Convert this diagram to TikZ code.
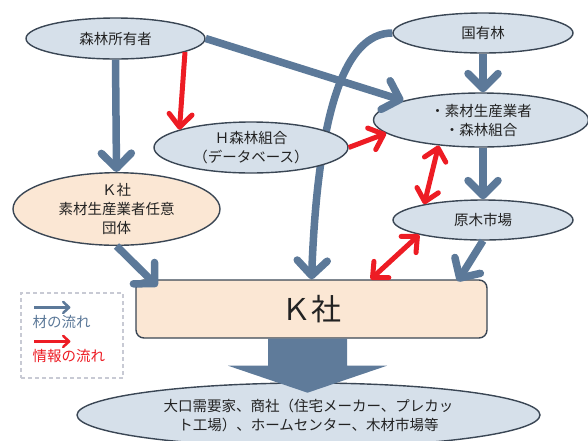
\documentclass[tikz,border=0pt]{standalone}
\usepackage{fontspec}
\setmainfont{Noto Sans CJK JP}
\usetikzlibrary{arrows.meta,calc,backgrounds,shapes.geometric}
\definecolor{flowblue}{RGB}{92,121,153}
\definecolor{bigblue}{RGB}{95,123,154}
\definecolor{flowred}{RGB}{237,28,36}
\definecolor{ellfill}{RGB}{214,224,234}
\definecolor{ellline}{RGB}{58,70,84}
\definecolor{orangefill}{RGB}{251,231,212}
\definecolor{txt}{RGB}{34,34,34}
\definecolor{leggray}{RGB}{200,202,212}
\tikzset{
  ell/.style={ellipse, draw=ellline, line width=1.4pt, fill=ellfill, inner sep=0pt,
    align=center, text=txt, font=\fontsize{14.5}{19}\selectfont},
  bluearrow/.style={draw=flowblue, line width=7.5pt,
    -{Straight Barb[length=15pt,width=30pt,round]}},
  redarrow/.style={draw=flowred, line width=5pt,
    -{Straight Barb[length=13pt,width=23pt,round]}},
  redboth/.style={draw=flowred, line width=5pt,
    {Straight Barb[length=12pt,width=22pt,round]}-{Straight Barb[length=12pt,width=22pt,round]}},
  legarrow/.style={line width=2.5pt, -{Straight Barb[length=6pt,width=11pt,round]}},
  legtext/.style={anchor=west, inner sep=0pt, font=\fontsize{14.5}{17}\selectfont},
}
\begin{document}
\begin{tikzpicture}[x=1pt,y=-1pt]
\useasboundingbox (0,0) rectangle (588,440);
\clip (0,0) rectangle (588,440);

% nodes
\node[ell, minimum width=179pt, minimum height=41pt] (own) at (115.5,38.5) {森林所有者};
\node[ell, minimum width=180pt, minimum height=40pt] (koku) at (483,33) {国有林};
\node[ell, minimum width=215pt, minimum height=54pt] (suzai) at (481,120) {・素材生産業者\\・森林組合};
\node[ell, minimum width=194pt, minimum height=51pt] (hnode) at (251,147.5) {Ｈ森林組合\\（データベース）};
\node[ell, fill=orangefill, minimum width=207pt, minimum height=72pt] (kdan) at (116.5,209) {Ｋ社\\素材生産業者任意\\団体};
\node[ell, minimum width=180pt, minimum height=40pt] (genboku) at (483,220) {原木市場};
\node[draw=ellline, line width=1.4pt, fill=orangefill, rounded corners=8pt,
  minimum width=351pt, minimum height=58pt, inner sep=0pt, text=txt,
  font=\fontsize{30}{34}\selectfont] (kbox) at (311.5,309) {Ｋ社};
\node[ell, minimum width=463pt, minimum height=64pt] (demand) at (308.5,415)
  {大口需要家、商社（住宅メーカー、プレカッ\\ト工場）、ホームセンター、木材市場等};

% big arrow
\fill[bigblue] ($(kbox.south)+(-43.5,0)$) -- ($(kbox.south)+(35.5,0)$)
  -- ($(kbox.south)+(35.5,27)$) -- ($(kbox.south)+(75.5,27)$)
  -- ($(kbox.south)+(-4,54)$) -- ($(kbox.south)+(-83.5,27)$)
  -- ($(kbox.south)+(-43.5,27)$) -- cycle;

% legend
\node[draw=leggray, line width=1.2pt, dash pattern=on 4pt off 3pt, fill=white,
  minimum width=102pt, minimum height=85pt, inner sep=0pt] (legend) at (72,335.5) {};
\coordinate (lb1) at ($(legend.north west)+(14,15)$);
\coordinate (lb2) at ($(legend.north west)+(50,15)$);
\coordinate (lr1) at ($(legend.north west)+(14,49)$);
\coordinate (lr2) at ($(legend.north west)+(50,49)$);
\draw[legarrow, flowblue] (lb1) -- (lb2);
\draw[legarrow, flowred] (lr1) -- (lr2);
\node[legtext, text=flowblue] (legb) at ($(legend.north west)+(12,30)$) {材の流れ};
\node[legtext, text=flowred] (legr) at ($(legend.north west)+(12,64)$) {情報の流れ};

% curve behind H node
\begin{scope}[on background layer]
\draw[bluearrow] (koku.west) .. controls (345,33) and (318,110) .. (kbox.north);
\end{scope}

% blue flows
\draw[bluearrow] (own.south) -- (kdan.north);
\draw[bluearrow] (own.east) -- (suzai.166);
\draw[bluearrow] (koku.south) -- (koku.south |- suzai.north);
\draw[bluearrow] (koku.south |- suzai.south) -- (genboku.north);
\draw[bluearrow] (kdan.south) -- ($(kbox.north west)+(22,7)$);
\draw[bluearrow] (genboku.south) -- ($(kbox.north east)+(-30,2)$);

% red flows
\draw[redarrow] (own.-11) -- (hnode.166);
\draw[redarrow] (hnode.east) -- (suzai.188);
\draw[redboth] (genboku.165) -- (suzai.211);
\draw[redboth] (genboku.193) -- ($(kbox.north east)+(-117,0)$);
\end{tikzpicture}
\end{document}
